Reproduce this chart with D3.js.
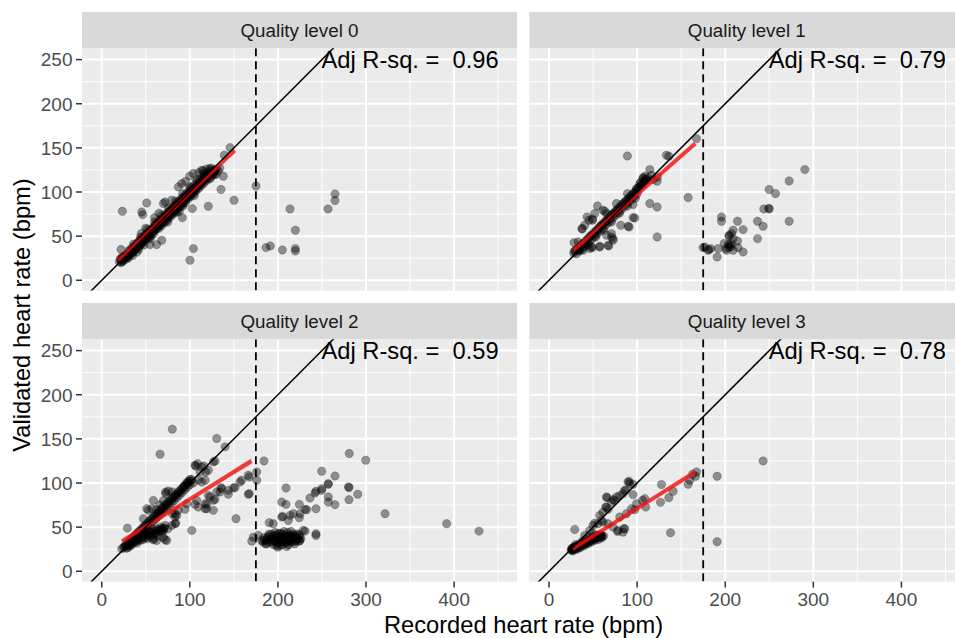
<!DOCTYPE html>
<html>
<head>
<meta charset="utf-8">
<script src="https://cdn.jsdelivr.net/npm/d3@7"></script>
<style>
  html, body { margin: 0; padding: 0; background: #ffffff; }
  svg { display: block; font-family: "Liberation Sans", Arial, Helvetica, sans-serif; }
</style>
</head>
<body>
<svg id="chart" width="955" height="638"></svg>
<script>
// Facet labels and fit statistics
const panelTitles = ["Quality level 0", "Quality level 1", "Quality level 2", "Quality level 3"];
const adjRsq = ["0.96", "0.79", "0.59", "0.78"];
const xTicks = [0, 100, 200, 300, 400];
const yTicks = [0, 50, 100, 150, 200, 250];
const xMinor = [50, 150, 250, 350, 450];
const yMinor = [25, 75, 125, 175, 225];
const cutoffBpm = 175;

// Linear fit per facet: [x start, y start, x end, y end]
const fitLines = [
  [19, 22.5, 151, 147],
  [28, 34, 166, 155],
  [23, 34, 170, 125],
  [27, 25.5, 166, 112.5]
];
// Confidence band half-width (bpm) at start, middle and end of each fit
const fitBands = [
  [1.2, 0.5, 1.5],
  [2.5, 1.0, 3.0],
  [2.5, 1.0, 4.0],
  [2.0, 1.0, 3.5]
];

// Recorded vs validated heart rate, quality level 0
const level0 = [
  [23.4,78.2],[45.4,77.4],[46.5,74.4],[51.1,87.6],[54.8,40.4],[62.4,40.4],[68.1,45.3],[91.5,71],
  [102.8,81.2],[104,35.9],[100.2,22.7],[121,83.8],[135.4,102.8],[138,117.8],[150.2,90.6],[145.6,150.3],
  [139.2,141.6],[175.1,106.8],[186.5,37],[191.4,38.9],[205,34.3],[213.7,80.8],[219.8,56.6],[219.8,35.9],
  [219.8,33.2],[256.9,80.8],[264.8,97.8],[264.8,90.3],[21.9,34.8],
  [20,21],[21,24],[22,20],[23,26],[24,22],[25,25],[26,23],[27,28],[28,26],[29,27],[30,30],[31,28],
  [32,33],[33,30],[34,32],[35,35],[36,33],[37,38],[38,35],[39,37],[40,40],[41,38],[42,43],[43,40],
  [44,42],[45,46],[45,41],[46,44],[47,48],[48,45],[49,47],[50,51],[50,46],[51,49],[52,53],[53,50],
  [54,52],[55,57],[55,51],[56,54],[57,58],[58,55],[59,57],[60,62],[60,56],[61,59],[62,64],[63,60],
  [64,62],[65,67],[65,61],[66,64],[67,69],[68,64],[69,67],[70,72],[70,66],[71,69],[72,74],[73,70],
  [74,72],[75,77],[75,71],[76,74],[77,79],[78,74],[79,77],[80,82],[80,76],[81,79],[82,84],[83,79],
  [84,82],[85,87],[85,81],[86,84],[87,89],[88,84],[89,87],[90,92],[90,86],[91,89],[92,94],[93,89],
  [94,92],[95,97],[95,91],[96,94],[97,99],[98,94],[99,97],[100,103],[100,96],[101,99],[102,105],
  [103,99],[104,102],[105,108],[106,102],[107,105],[108,111],[109,105],[110,108],[111,114],[112,108],
  [113,111],[114,117],[115,112],[116,115],[117,119],[118,114],[119,117],[120,122],[121,118],[122,121],
  [124,124],[126,120],[128,125],[130,126],[132,124],[134,127],
  [70,87],[95,112],[100,118],[104,120.9],[110,122],[113.5,124.6],[115,124],[119,126],[122.9,126.5],
  [128.6,124.6],[60,71],[65,76],[50,59],[45,53],[40,32],[55,47],[75,66],[85,77],[88,78],[48,40],
  [42,35],[35,28],[30,25],[92,84],[105,96],[123,115],[130,120],[71.9,88.7],[79.5,90.6],[87,105.7],
  [90.8,109.5],
  [22,24],[25,27],[28,29],[31,34],[34,36],[37,39],[40,42],[43,45],[46,48],[49,51],[52,54],[55,56],
  [58,59],[61,62],[64,65],[67,68],[70,70],[73,73],[76,77],[79,79],[82,82],[85,85],[88,88],[91,91],
  [94,94],[97,96],[100,100],[103,103],[106,105],[109,108],[112,111],[115,114],[118,116],[121,119],
  [124,121],[127,122],[23,21],[26,25],[29,26],[32,30],[35,31],[38,36],[41,37],[44,40],[47,43],[50,48],
  [53,48],[56,50],[59,53],[62,58],[65,59],[68,62],[71,65],[74,68],[77,71],[80,74],[83,77],[86,80],
  [89,83],[92,86],[95,88],[98,92],[101,95],[104,98],[107,101],[110,104],[113,107],[116,110],[119,113],
  [122,116],[125,118],[128,120],[36,41],[44,49],[52,58],[60,66],[68,74],[76,82],[84,90],[92,98],
  [100,106],[108,114],[116,121],[124,127]
];

// Quality level 1
const level1 = [
  [167.4,160.5],[89,140.8],[133.3,141.6],[136,140.5],[114.4,125.4],[109,117.8],[106.8,116.3],[122.7,112.2],
  [157.9,93.7],[114.4,86.9],[122.7,83],[122.7,49.1],[55,84.2],[95.4,85.8],[97.3,70.6],[90.9,60.4],
  [63.3,78.2],[43.2,71.7],[37.5,58.6],[32.9,43.4],[28.4,42.7],[95.4,71],[89.7,61.2],[81.4,62.3],
  [70.9,49.1],[72.7,45.3],[67.8,38.9],[57.6,38.5],[49.3,37],[45.4,68],[49.3,69.4],[51.9,75.6],
  [40.5,62.3],[65.2,51],[38.6,34],[57.6,37.7],[67,39.7],[72.7,47.2],[70.9,52.9],[46.2,35.9],
  [48.2,37.7],[37.5,58.1],[49.3,68],[61.3,79.3],[65.2,75.6],[76.5,86.9],[89,98.2],[99.3,103.9],
  [103,109.5],[110.6,113.3],[116.3,119],[106.8,115.2],[104,111],[118,114],[123,117],
  [28,31],[30,34],[31,30],[33,36],[34,33],[36,39],[37,35],[39,42],[40,38],[42,45],[43,41],[45,48],
  [46,44],[48,51],[49,47],[51,54],[52,50],[54,57],[55,53],[57,60],[58,56],[60,63],[61,59],[63,66],
  [64,62],[66,69],[67,65],[69,72],[70,68],[72,75],[73,71],[75,78],[76,74],[78,81],[79,77],[81,84],
  [82,80],[84,87],[85,83],[87,90],[88,86],[90,93],[91,89],[93,96],[94,92],[96,99],[97,95],[99,102],
  [100,98],[102,105],[104,107],[106,108],[108,112],[110,114],[112,116],
  [29,33],[32,35],[35,37],[38,41],[41,43],[44,46],[47,50],[50,52],[53,55],[56,58],[59,62],[62,64],
  [65,67],[68,70],[71,74],[74,76],[77,79],[80,82],[83,86],[86,88],[89,91],[92,94],[95,97],[98,100],
  [101,104],[105,108],[109,112],[35,34],[44,40],[53,49],[62,57],[71,66],[80,76],[89,84],[98,93],
  [290.4,125.4],[272.6,112.5],[249.9,102.8],[257.1,98.2],[243.8,80.8],[249.9,80.8],[249.5,81.5],
  [272.6,66.8],[236.7,66.8],[243,61.2],[236.7,47.2],[195.8,71.7],[195.8,66.8],[214,66.8],[220.3,57.4],
  [209,56.6],[207.2,52.9],[204.4,49.8],[214,44.5],[209,47.2],[205.2,39.7],[203.5,41],[206.5,38],
  [207,41.5],[204,37.5],[198.8,41.6],[200.7,35.9],[191.9,35.9],[183.6,35.9],[176.8,37.7],[190.8,26.4],
  [209,34],[220.3,32.1],[214.6,37],[180.6,34],[174.9,37],[181.4,34.8],[201.5,34],[204.4,51]
];

// Quality level 2
const level2 = [
  [80.1,161],[66.2,132.6],[130.5,150.4],[140,140.9],[128.6,125],[106.7,119.3],[116.1,119.3],[111.6,112.5],
  [118,112.5],[109.6,103.4],[166.4,108.8],[167.5,106.8],[175.9,112.5],[175.9,103.1],[184.2,125],[166.4,87.2],
  [157,101.1],[149.4,94.3],[143.7,87.2],[135.4,94.8],[134.3,89.8],[128.6,81.5],[121,86],[119.2,75.8],
  [117.3,70.9],[130.5,89.8],[152.4,59.5],[102.2,46.3],[96.5,76.6],[105.9,75.8],[94.6,70.1],[86.9,69],
  [83.2,61.4],[84,54.5],[85.1,63.3],[80.1,65.2],[72.6,88],[75.6,90.9],[58.6,80.3],[56.8,70.9],
  [51.1,70.9],[47.2,59.5],[29.1,48.9],[22.7,25.5],[69.9,48.2],[71.9,35.7],[62.4,34.9],[58.6,35.7],
  [51.1,42.5],[83.2,65.2],[79.5,51.9],[83.2,53.9],[68.1,48.2],[73.8,34.9],[58.6,36.8],[69.9,38.6],
  [72.6,89.8],[52.9,69],[109.6,72.7],[107.8,80.3],[117.3,76.6],[122.9,84.1],[126.7,80.3],[136.2,93.6],
  [143.7,91.7],[151.3,94.8],[158.9,103.1],[119.2,70.9],[126.7,69],[105.9,120.1],[113.5,118.2],[121,114.4],
  [126.7,123.9],[117.3,103.1],[113.5,101.1],[108.9,121.9],[167.5,88],
  [25,27],[27,30],[28,26],[30,33],[31,29],[33,36],[34,32],[36,39],[37,35],[39,42],[40,38],[42,45],
  [43,41],[45,48],[46,44],[48,51],[49,47],[51,54],[52,50],[54,57],[55,53],[57,60],[58,56],[60,63],
  [61,59],[63,66],[64,62],[66,69],[67,65],[69,72],[70,68],[72,75],[73,71],[75,78],[76,74],[78,81],
  [79,77],[81,84],[82,80],[84,87],[85,83],[87,90],[88,86],[90,93],[91,89],[93,96],[94,92],[96,99],
  [97,95],[99,102],[100,98],[102,104],[104,100],[66,75],[70,80],[80,90],[62,70],
  [26,28],[29,31],[32,34],[35,37],[38,40],[41,43],[44,46],[47,49],[50,52],[53,55],[56,58],[59,61],
  [62,64],[65,67],[68,70],[71,73],[74,76],[77,79],[80,82],[83,85],[86,88],[89,91],[92,94],[95,97],
  [98,100],[101,102],[100,104],[97,101],[94,97],
  [30,27],[33,29],[35,31],[38,33],[40,32],[42,36],[45,38],[47,36],[50,40],[53,42],[55,39],[57,44],
  [60,42],[62,46],[65,45],[67,50],[70,46],[72,52],[75,48],[40,40],[44,35],[48,43],[52,37],[58,48],[64,40],
  [28,29],[31,30],[34,33],[37,34],[41,35],[46,40],[49,38],[51,44],[54,45],[56,41],[59,45],[61,43],
  [63,48],[66,47],[68,44],[71,49],
  [281,133.4],[299.7,125.8],[249.7,113.3],[264.8,108],[257.2,99.3],[249.7,93.6],[243.2,90.6],[236.4,83],
  [280.7,94.8],[280.2,95.5],[290.6,87.2],[280.7,81.1],[257.2,84.1],[257.2,78.4],[264.8,75.5],[243.2,70.9],
  [321.6,65.2],[391.6,53.9],[428.3,45.5],[209.2,94.3],[204.3,78.4],[209.2,75.8],[224.3,75.8],[230.8,70.1],
  [225.1,65.2],[213.7,63.3],[204.3,61.4],[224.3,60.7],[194.8,53.9],[190.2,55],[230.8,45.5],[243.2,42.5],
  [243.2,40.6],[225.1,34.9],[172.1,38.6],[177.8,40.6],[181.6,34.9],[187.3,31.1],[198.6,29.2],[170.3,34.1],
  [199.8,27.3],[224.3,34.1],[228.8,46.3],[205.4,62.2],[217.5,65.2],[211.8,57.6],[232.7,69.8],[242.1,88.6],
  [249.7,91.7],[257.2,98.5],
  [185,35],[188,38],[190,33],[192,36],[194,40],[196,34],[198,37],[200,32],[200,40],[202,35],[203,43],
  [205,30],[205,38],[206,42],[207,34],[208,36],[209,40],[210,32],[211,44],[212,37],[213,35],[214,40],
  [215,33],[216,38],[217,42],[218,36],[220,40],[221,34],[222,38],[224,42],[195,30],[202,29],[210,28],
  [190,42],[197,44],[183,33],[186,31],[215,45],[219,31],[226,37],
  [187,35],[189,40],[191,37],[193,33],[195,38],[197,35],[199,39],[201,36],[203,33],[204,40],[206,36],
  [208,39],[209,33],[211,37],[213,41],[214,35],[216,40],[218,34],[219,38],[221,42],[223,36],[225,40],
  [201,43],[207,45],[193,42],[184,38],[212,30],[204,34],[198,41],[216,36]
];

// Quality level 3
const level3 = [
  [243,125],[190.8,107.6],[190.8,33.4],[167.4,112.5],[166.3,107.6],[159.8,103.1],[157.9,98.5],[127.7,98.2],
  [140.8,90.6],[136,83.4],[126.5,78.1],[137.9,43.6],[99.3,76.6],[106.1,80.3],[109.8,72.7],[97.3,69.8],
  [90.9,101.9],[95.4,98.5],[95.4,86.8],[65.9,83.4],[80.3,86],[84,88],[72.7,81.1],[87.1,91.7],
  [64.4,72.7],[67,70.1],[57.6,63.3],[59.5,57.6],[51.9,54.5],[29.2,47.4],[77.7,45.1],[84.8,48.2],
  [59.5,40.6],[50,42.5],[40.5,40.6],[80.3,61.4],[87.9,65.2],[93.6,70.9],[108.7,82.3],[61.3,67],
  [65.2,72.7],[70.9,78.4],[74.6,80.3],[76.5,84.1],[85.9,91.7],[91.6,99.3],[65.2,84.1],[89.7,101.1],
  [46.2,46.3],[50,51.9],[55.7,53.9],[61.3,55.7],[67,53.9],[72.7,50],[78.4,46.3],[86,48.2],[84,44.3],[163,110],
  [25,24],[26,26],[27,25],[28,27],[29,25],[30,26],[27,23],[31,28],[33,27],[35,29],[37,30],[39,31],
  [41,32],[43,33],[45,34],[47,35],[49,36],[51,37],[53,38],[55,39],[57,40],[59,41],[30,30],[34,31],
  [38,34],[42,36],[46,38],[50,39],[54,41],[32,25],[36,27],[40,29],[44,31],[48,33],[52,35],[56,36],
  [60,38],[62,40],
  [26,24],[28,25],[29,27],[31,26],[33,29],[35,28],[37,31],[39,30],[41,33],[43,32],[45,35],[47,34],
  [49,37],[51,36],[53,39],[55,38],[57,41],[58,38],[60,40],[27,26],[30,28],[26,25]
];

const panelData = [level0, level1, level2, level3];

// ---- layout ----
const svg = d3.select("#chart");
const colX = [82, 529.3];
const panelW = 435;
const stripTop = [12, 303];
const stripH = 36.3;
const plotH = 242.3;

const x = d3.scaleLinear().domain([-22.4, 471.4]).range([0, panelW]);
const y = d3.scaleLinear().domain([-11.7, 262.8]).range([plotH, 0]);

const defs = svg.append("defs");

panelTitles.forEach((title, i) => {
  const col = i % 2, row = Math.floor(i / 2);
  const left = colX[col];
  const top = stripTop[row] + stripH;

  // strip
  svg.append("rect")
    .attr("x", left).attr("y", stripTop[row])
    .attr("width", panelW).attr("height", stripH)
    .attr("fill", "#D9D9D9");
  svg.append("text")
    .attr("x", left + panelW / 2).attr("y", stripTop[row] + 25.3)
    .attr("text-anchor", "middle")
    .attr("font-size", 18.8).attr("fill", "#1A1A1A")
    .text(title);

  const g = svg.append("g").attr("transform", `translate(${left},${top})`);
  const clipId = "clip" + i;
  defs.append("clipPath").attr("id", clipId)
    .append("rect").attr("width", panelW).attr("height", plotH);

  g.append("rect").attr("width", panelW).attr("height", plotH).attr("fill", "#EBEBEB");

  const grid = g.append("g").attr("clip-path", `url(#${clipId})`);
  grid.selectAll(".xminor").data(xMinor).join("line")
    .attr("x1", d => x(d)).attr("x2", d => x(d)).attr("y1", 0).attr("y2", plotH)
    .attr("stroke", "#ffffff").attr("stroke-width", 1);
  grid.selectAll(".yminor").data(yMinor).join("line")
    .attr("y1", d => y(d)).attr("y2", d => y(d)).attr("x1", 0).attr("x2", panelW)
    .attr("stroke", "#ffffff").attr("stroke-width", 1);
  grid.selectAll(".xmajor").data(xTicks).join("line")
    .attr("x1", d => x(d)).attr("x2", d => x(d)).attr("y1", 0).attr("y2", plotH)
    .attr("stroke", "#ffffff").attr("stroke-width", 2);
  grid.selectAll(".ymajor").data(yTicks).join("line")
    .attr("y1", d => y(d)).attr("y2", d => y(d)).attr("x1", 0).attr("x2", panelW)
    .attr("stroke", "#ffffff").attr("stroke-width", 2);

  const layer = g.append("g").attr("clip-path", `url(#${clipId})`);

  // observations
  layer.selectAll("circle").data(panelData[i]).join("circle")
    .attr("cx", d => x(d[0])).attr("cy", d => y(d[1])).attr("r", 4.2)
    .attr("fill", "#000000").attr("fill-opacity", 0.4)
    .attr("stroke", "#000000").attr("stroke-opacity", 0.4).attr("stroke-width", 0.5);

  // confidence band and fitted line
  const [fx0, fy0, fx1, fy1] = fitLines[i];
  const [b0, bm, b1] = fitBands[i];
  const fxm = (fx0 + fx1) / 2, fym = (fy0 + fy1) / 2;
  const band = [
    [fx0, fy0 + b0], [fxm, fym + bm], [fx1, fy1 + b1],
    [fx1, fy1 - b1], [fxm, fym - bm], [fx0, fy0 - b0]
  ];
  layer.append("path")
    .attr("d", d3.line().x(d => x(d[0])).y(d => y(d[1])).curve(d3.curveLinearClosed)(band))
    .attr("fill", "#999999").attr("fill-opacity", 0.4);
  layer.append("line")
    .attr("x1", x(fx0)).attr("y1", y(fy0)).attr("x2", x(fx1)).attr("y2", y(fy1))
    .attr("stroke", "#FF0000").attr("stroke-opacity", 0.72).attr("stroke-width", 4);

  // line of identity
  const xd = x.domain();
  layer.append("line")
    .attr("x1", x(xd[0])).attr("y1", y(xd[0])).attr("x2", x(xd[1])).attr("y2", y(xd[1]))
    .attr("stroke", "#000000").attr("stroke-width", 1.5);

  // cutoff
  layer.append("line")
    .attr("x1", x(cutoffBpm)).attr("x2", x(cutoffBpm)).attr("y1", 0).attr("y2", plotH)
    .attr("stroke", "#000000").attr("stroke-width", 1.8).attr("stroke-dasharray", "8,5");

  // annotation
  g.append("text")
    .attr("x", x(350)).attr("y", y(250) + 8.6)
    .attr("text-anchor", "middle")
    .attr("font-size", 23.7).attr("fill", "#000000")
    .attr("xml:space", "preserve")
    .style("white-space", "pre")
    .text("Adj R-sq. =  " + adjRsq[i]);

  // axes
  if (col === 0) {
    const ya = g.append("g");
    ya.selectAll("line").data(yTicks).join("line")
      .attr("x1", -6).attr("x2", 0).attr("y1", d => y(d)).attr("y2", d => y(d))
      .attr("stroke", "#333333").attr("stroke-width", 1.5);
    ya.selectAll("text").data(yTicks).join("text")
      .attr("x", -9.5).attr("y", d => y(d) + 6.8)
      .attr("text-anchor", "end")
      .attr("font-size", 19).attr("fill", "#4D4D4D")
      .text(d => d);
  }
  if (row === 1) {
    const xa = g.append("g");
    xa.selectAll("line").data(xTicks).join("line")
      .attr("y1", plotH).attr("y2", plotH + 6).attr("x1", d => x(d)).attr("x2", d => x(d))
      .attr("stroke", "#333333").attr("stroke-width", 1.5);
    xa.selectAll("text").data(xTicks).join("text")
      .attr("x", d => x(d)).attr("y", plotH + 24.3)
      .attr("text-anchor", "middle")
      .attr("font-size", 19).attr("fill", "#4D4D4D")
      .text(d => d);
  }
});

// axis titles
svg.append("text")
  .attr("x", 523.5).attr("y", 633)
  .attr("text-anchor", "middle")
  .attr("font-size", 23.7).attr("fill", "#000000")
  .text("Recorded heart rate (bpm)");
svg.append("text")
  .attr("transform", "translate(30,315) rotate(-90)")
  .attr("text-anchor", "middle")
  .attr("font-size", 23.7).attr("fill", "#000000")
  .text("Validated heart rate (bpm)");
</script>
</body>
</html>
